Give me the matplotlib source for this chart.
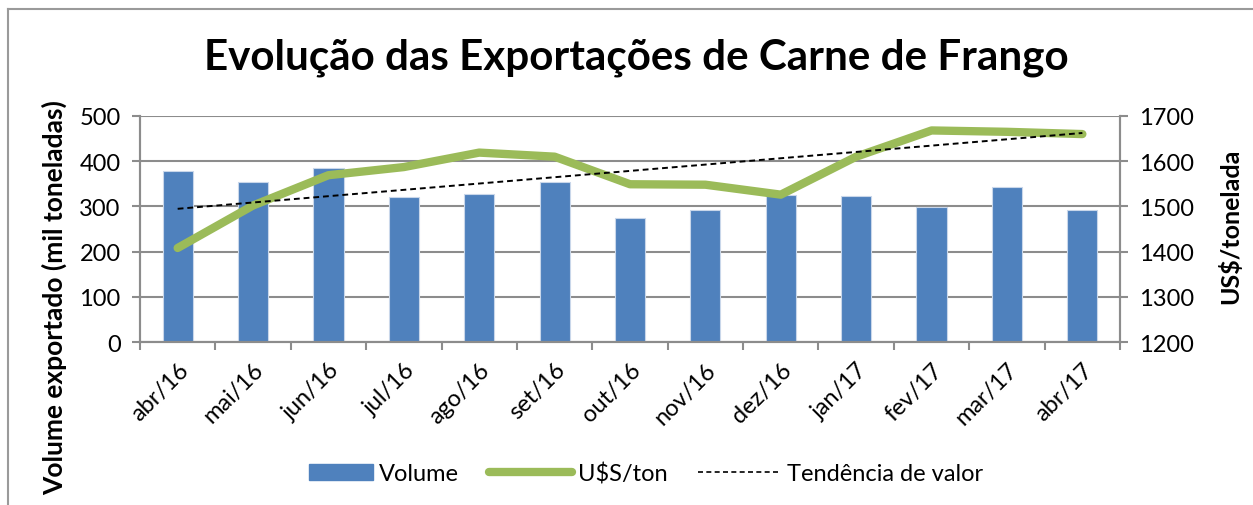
import matplotlib.pyplot as plt
import numpy as np
from matplotlib.lines import Line2D
from matplotlib.patches import Patch, Rectangle
from matplotlib.legend_handler import HandlerPatch

plt.rcParams['font.family'] = ['Lato', 'DejaVu Sans']

months = ["abr/16", "mai/16", "jun/16", "jul/16", "ago/16", "set/16", "out/16",
          "nov/16", "dez/16", "jan/17", "fev/17", "mar/17", "abr/17"]
volume = [378, 353, 384, 320, 328, 353, 275, 292, 326, 324, 299, 342, 293]
price = [1408, 1502, 1569, 1587, 1619, 1610, 1549, 1548, 1526, 1610, 1668, 1665, 1660]

BLUE = "#4F81BD"
GREEN = "#9BBB59"
GRID = "#8C8C8C"


def short_patch(legend, orig_handle, xdescent, ydescent, width, height, fontsize):
    # legend patch is narrower than the line handles
    w = width * 0.77
    return Rectangle((width - w - xdescent, -ydescent), w, height)


fig = plt.figure(figsize=(12.53, 5.06), dpi=100)
ax = fig.add_axes([0.1117, 0.3221, 0.7822, 0.4467])
ax2 = ax.twinx()

x = np.arange(len(months))
ax.bar(x, volume, width=0.4, color=BLUE, edgecolor="#C9D7EA", linewidth=0.8, zorder=2)

# trend line (linear fit, like Excel's trendline)
coef = np.polyfit(x, price, 1)
trend = np.polyval(coef, x)
ax2.plot(x, price, color=GREEN, lw=6, solid_capstyle="round", solid_joinstyle="round", zorder=3)
ax2.plot(x, trend, color="black", lw=1.4, ls=(0, (3, 2)), zorder=4)

ax.set_xlim(-0.5, len(months) - 0.5)
ax.set_ylim(0, 500)
ax.set_yticks(range(0, 501, 100))
ax2.set_ylim(1200, 1700)
ax2.set_yticks(range(1200, 1701, 100))

ax.yaxis.grid(True, color=GRID, lw=1.5, zorder=0)
ax.set_axisbelow(True)
ax.set_zorder(ax2.get_zorder() - 1)
ax2.patch.set_visible(False)

ax.set_xticks(np.arange(-0.5, len(months), 1))
ax.set_xticklabels([])
ax.set_xticks(x, minor=True)
ax.set_xticklabels(months, minor=True, rotation=45, ha="right", rotation_mode="anchor", fontsize=17)
ax.tick_params(axis="x", which="minor", length=0, pad=12)
ax.tick_params(axis="x", which="major", length=6, width=1.5, color=GRID, direction="out")
ax.tick_params(axis="y", length=6, width=1.5, color=GRID, labelsize=17, pad=8)
ax2.tick_params(axis="y", length=6, width=1.5, color=GRID, labelsize=17, pad=8)

for a in (ax, ax2):
    a.spines["top"].set_visible(False)
    for s in ("left", "right", "bottom"):
        a.spines[s].set_color(GRID)
        a.spines[s].set_linewidth(1.5)

ax.set_ylabel("Volume exportado (mil toneladas)", fontsize=19, fontweight="bold")
ax.yaxis.set_label_coords(-0.0745, 0.199)
ax2.set_ylabel("US$/tonelada", fontsize=18, fontweight="bold")
ax2.yaxis.set_label_coords(1.1, 0.518)

fig.text(0.508, 0.885, "Evolução das Exportações de Carne de Frango", ha="center", va="center",
         fontsize=30.3, fontweight="bold")

handles = [Patch(color=BLUE),
           Line2D([], [], color=GREEN, lw=6, solid_capstyle="round"),
           Line2D([], [], color="black", lw=1.2, ls=(0, (3, 2)))]
fig.legend(handles, ["Volume", "U$S/ton", "Tendência de valor"], loc="center",
           bbox_to_anchor=(0.508, 0.063), ncol=3, frameon=False, fontsize=17,
           handlelength=3.5, columnspacing=1.3, handletextpad=0.25,
           handler_map={Patch: HandlerPatch(patch_func=short_patch)})

# chart area border
fig.add_artist(Line2D([0.0065, 0.0065], [0, 0.981], color="#9A9A9A", lw=1.5, transform=fig.transFigure))
fig.add_artist(Line2D([0.0065, 1.0], [0.981, 0.981], color="#9A9A9A", lw=1.5, transform=fig.transFigure))

fig.savefig("out.png", dpi=100)
